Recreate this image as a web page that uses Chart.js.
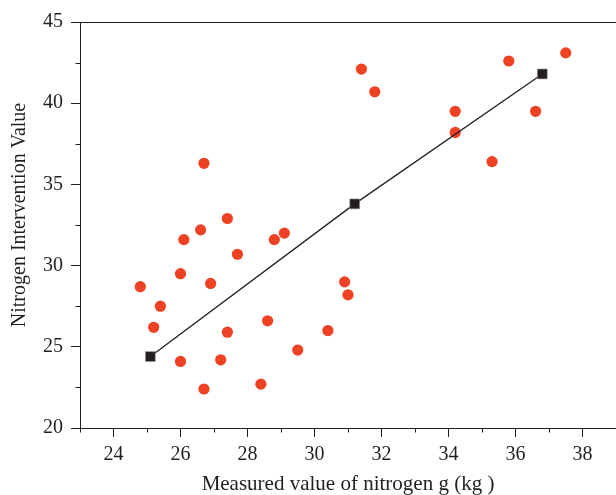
<!DOCTYPE html>
<html>
<head>
<meta charset="utf-8">
<script src="https://cdn.jsdelivr.net/npm/chart.js@4.4.1/dist/chart.umd.min.js"></script>
<style>
html,body{margin:0;padding:0;background:#fff;}
#c{display:block;}
</style>
</head>
<body>
<canvas id="c" width="616" height="495"></canvas>
<script>
// Measured nitrogen (x) vs intervention value (y) - scatter points
const measuredX = [24.8, 25.2, 25.4, 26.0, 26.0, 26.1, 26.6, 26.7, 26.7, 26.9, 27.2, 27.4, 27.4, 27.7, 28.4, 28.6, 28.8, 29.1, 29.5, 30.4, 30.9, 31.0, 31.4, 31.8, 34.2, 34.2, 35.3, 35.8, 36.6, 37.5];
const interventionY = [28.7, 26.2, 27.5, 29.5, 24.1, 31.6, 32.2, 36.3, 22.4, 28.9, 24.2, 25.9, 32.9, 30.7, 22.7, 26.6, 31.6, 32.0, 24.8, 26.0, 29.0, 28.2, 42.1, 40.7, 39.5, 38.2, 36.4, 42.6, 39.5, 43.1];
// Fitted line points (black squares)
const fitX = [25.1, 31.2, 36.8];
const fitY = [24.4, 33.8, 41.8];
// Axis ranges / ticks
const xRange = [23, 39];
const yRange = [20, 45];
const xMajorLabels = [24, 26, 28, 30, 32, 34, 36, 38];
const yMajorLabels = [20, 25, 30, 35, 40, 45];

const INK = '#231f20';
const FONT = 'Liberation Serif';

const scatterData = measuredX.map((x, i) => ({x, y: interventionY[i]}));
const fitData = fitX.map((x, i) => ({x, y: fitY[i]}));

function isMajorX(v){ return xMajorLabels.some(m => Math.abs(m - v) < 1e-6); }
function isMajorY(v){ return yMajorLabels.some(m => Math.abs(m - v) < 1e-6); }

const framePlugin = {
  id: 'frame',
  afterDraw(chart) {
    const {ctx, chartArea} = chart;
    const xs = chart.scales.x, ys = chart.scales.y;
    ctx.save();
    ctx.strokeStyle = INK;
    ctx.lineWidth = 1;
    // top frame line
    ctx.beginPath();
    ctx.moveTo(chartArea.left, chartArea.top + 0.5);
    ctx.lineTo(chartArea.right, chartArea.top + 0.5);
    ctx.stroke();
    // minor ticks
    ctx.beginPath();
    xs.ticks.forEach(t => {
      if (!isMajorX(t.value)) {
        const px = Math.round(xs.getPixelForValue(t.value)) + 0.5;
        ctx.moveTo(px, chartArea.bottom);
        ctx.lineTo(px, chartArea.bottom + 4.5);
      }
    });
    ys.ticks.forEach(t => {
      if (!isMajorY(t.value)) {
        const py = Math.round(ys.getPixelForValue(t.value)) + 0.5;
        ctx.moveTo(chartArea.left, py);
        ctx.lineTo(chartArea.left - 4.5, py);
      }
    });
    ctx.stroke();
    ctx.restore();
  }
};

new Chart(document.getElementById('c'), {
  type: 'scatter',
  data: {
    datasets: [
      {
        label: 'Fit',
        data: fitData,
        showLine: true,
        borderColor: INK,
        borderWidth: 1.3,
        pointStyle: 'rect',
        pointRadius: 7,
        pointBackgroundColor: INK,
        pointBorderColor: '#9a9a9a',
        pointBorderWidth: 0.6,
        order: 0
      },
      {
        label: 'Samples',
        data: scatterData,
        showLine: false,
        pointStyle: 'circle',
        pointRadius: 5.6,
        pointBackgroundColor: '#ef4123',
        pointBorderWidth: 0,
        order: 1
      }
    ]
  },
  options: {
    responsive: false,
    animation: false,
    devicePixelRatio: 1,
    layout: {autoPadding: false, padding: {top: 22, right: 0, left: 0, bottom: 0}},
    plugins: {legend: {display: false}, tooltip: {enabled: false}},
    scales: {
      x: {
        type: 'linear',
        min: xRange[0], max: xRange[1],
        afterFit(scale){ scale.height = 67; scale.paddingLeft = 0; scale.paddingRight = 0; },
        border: {display: true, color: INK, width: 1},
        grid: {
          drawOnChartArea: false,
          drawTicks: true,
          tickLength: 9,
          tickColor: ctx => isMajorX(ctx.tick.value) ? INK : 'rgba(0,0,0,0)',
          tickWidth: 1
        },
        ticks: {
          stepSize: 1,
          autoSkip: false,
          maxRotation: 0,
          padding: 6,
          color: INK,
          font: {family: FONT, size: 20},
          callback: v => isMajorX(v) ? String(v) : ''
        },
        title: {
          display: true,
          text: 'Measured value of nitrogen g (kg )',
          color: INK,
          font: {family: FONT, size: 21, lineHeight: 1},
          padding: {top: 0, bottom: 0}
        }
      },
      y: {
        type: 'linear',
        min: yRange[0], max: yRange[1],
        afterFit(scale){ scale.width = 80; scale.paddingTop = 0; scale.paddingBottom = 0; },
        border: {display: true, color: INK, width: 1},
        grid: {
          drawOnChartArea: false,
          drawTicks: true,
          tickLength: 9,
          tickColor: ctx => isMajorY(ctx.tick.value) ? INK : 'rgba(0,0,0,0)',
          tickWidth: 1
        },
        ticks: {
          stepSize: 2.5,
          autoSkip: false,
          padding: 8,
          color: INK,
          font: {family: FONT, size: 20},
          callback: v => isMajorY(v) ? String(v) : ''
        },
        title: {
          display: true,
          text: '    Nitrogen Intervention Value',
          color: INK,
          font: {family: FONT, size: 20, lineHeight: 1},
          padding: {top: 9.5, bottom: 0}
        }
      }
    }
  },
  plugins: [framePlugin]
});
</script>
</body>
</html>
